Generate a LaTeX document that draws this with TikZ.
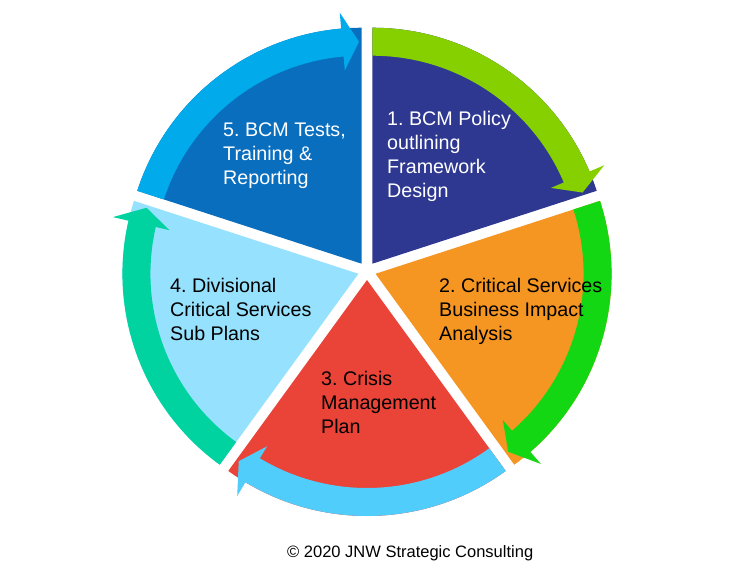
\documentclass[tikz,border=0pt]{standalone}
\usepackage{fontspec}
\setmainfont{Liberation Sans}
\usetikzlibrary{calc}
\frenchspacing

\definecolor{policy}{RGB}{46,56,145}
\definecolor{policyarrow}{RGB}{135,208,0}
\definecolor{impact}{RGB}{245,150,35}
\definecolor{impactarrow}{RGB}{20,215,20}
\definecolor{crisis}{RGB}{234,67,56}
\definecolor{crisisarrow}{RGB}{80,205,250}
\definecolor{division}{RGB}{150,225,253}
\definecolor{divisionarrow}{RGB}{0,210,160}
\definecolor{tests}{RGB}{10,110,190}
\definecolor{testsarrow}{RGB}{0,170,235}

\tikzset{
  steptext/.style={anchor=base west, align=left, inner sep=0pt, font=\fontsize{19.7}{24}\selectfont},
}

\begin{document}
\begin{tikzpicture}[x=1pt,y=1pt]
    \useasboundingbox (0,0) rectangle (748,-572);
    \coordinate (C) at (367,-271);

    % wedges with their arc arrows
    \foreach \s/\wcol/\acol [count=\i] in {90/policy/policyarrow, 18/impact/impactarrow, -54/crisis/crisisarrow, -126/division/divisionarrow, 162/tests/testsarrow} {
        \coordinate (V\i) at ($(C)+(\s-36:9)$);
        \fill[\wcol] (V\i) -- ++(\s:236) arc[start angle=\s, end angle=\s-72, radius=236] -- cycle;
        \fill[\acol] ($(V\i)+(\s:236)$) arc[start angle=\s, end angle=\s-67, radius=236]
            -- ($(V\i)+(\s-67:252)$) -- ($(V\i)+(\s-71.3:222)$) -- ($(V\i)+(\s-67:194)$)
            -- ($(V\i)+(\s-67:208)$) arc[start angle=\s-67, end angle=\s, radius=208] -- cycle;
    }

    % base anchor sits on the last line
    \node[steptext, text=white] (policy) at (387,-198) {1. BCM Policy\\outlining\\Framework\\Design};
    \node[steptext] (impact) at (439,-341) {2. Critical Services\\Business Impact\\Analysis};
    \node[steptext] (crisis) at (321,-433) {3. Crisis\\Management\\Plan};
    \node[steptext] (division) at (170,-341) {4. Divisional\\Critical Services\\Sub Plans};
    \node[steptext, text=white] (tests) at (223,-185) {5. BCM Tests,\\Training \&\\Reporting};

    \node[anchor=base west, inner sep=0pt, font=\fontsize{16.5}{20}\selectfont] (copyright) at (287,-557) {© 2020 JNW Strategic Consulting};
\end{tikzpicture}
\end{document}
